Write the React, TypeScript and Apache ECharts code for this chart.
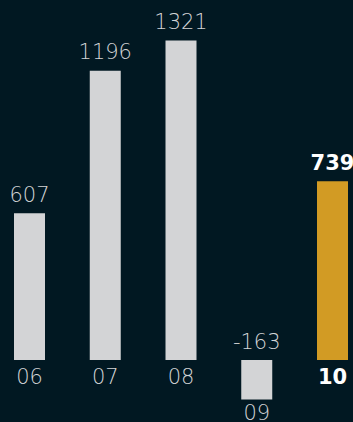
import React, { useEffect, useRef } from "react";
import * as echarts from "echarts";

const categories = ["06", "07", "08", "09", "10"];
const values = [607, 1196, 1321, -163, 739];
const highlightIndex = 4;

const BG = "#011822";
const GRAY = "#d3d4d6";
const GOLD = "#d29b24";
const FONT = "'DejaVu Sans', 'Open Sans', sans-serif";

export default function App() {
  const ref = useRef<HTMLDivElement>(null);
  useEffect(() => {
    if (!ref.current) return;
    const chart = echarts.init(ref.current, undefined, { renderer: "svg" });
    chart.setOption({
      animation: false,
      backgroundColor: BG,
      grid: {
        left: -8.375,
        right: -17.375,
        top: 0,
        bottom: 62,
        containLabel: false,
        outerBoundsMode: "none",
      },
      xAxis: {
        type: "category",
        data: categories,
        axisLine: { show: false },
        axisTick: { show: false },
        axisLabel: {
          margin: 6,
          interval: 0,
          formatter: (v: string, i: number) => {
            if (i === highlightIndex) return "{b|" + v + "}";
            if (values[i] < 0) return "{n|" + v + "}";
            return "{r|" + v + "}";
          },
          rich: {
            r: { fontFamily: FONT, fontSize: 21, fontWeight: 200, color: GRAY },
            n: { fontFamily: FONT, fontSize: 21, fontWeight: 200, color: GRAY, padding: [36, 0, 0, 0] },
            b: { fontFamily: FONT, fontSize: 21, fontWeight: "bold", color: "#ffffff" },
          },
        },
      },
      yAxis: {
        type: "value",
        min: 0,
        max: 1488,
        show: false,
        splitLine: { show: false },
      },
      series: [
        {
          type: "bar",
          barWidth: 31,
          clip: false,
          data: values.map((v, i) => ({
            value: v,
            itemStyle: { color: i === highlightIndex ? GOLD : GRAY },
            label: {
              show: true,
              position: "top",
              distance: 8,
              fontFamily: FONT,
              fontSize: 21,
              fontWeight: i === highlightIndex ? "bold" : 200,
              color: i === highlightIndex ? "#ffffff" : GRAY,
              formatter: String(v),
            },
          })),
        },
      ],
    });
    return () => chart.dispose();
  }, []);
  return (
    <div
      ref={ref}
      style={{ position: "absolute", left: 0, top: 0, width: 353, height: 422 }}
    />
  );
}
